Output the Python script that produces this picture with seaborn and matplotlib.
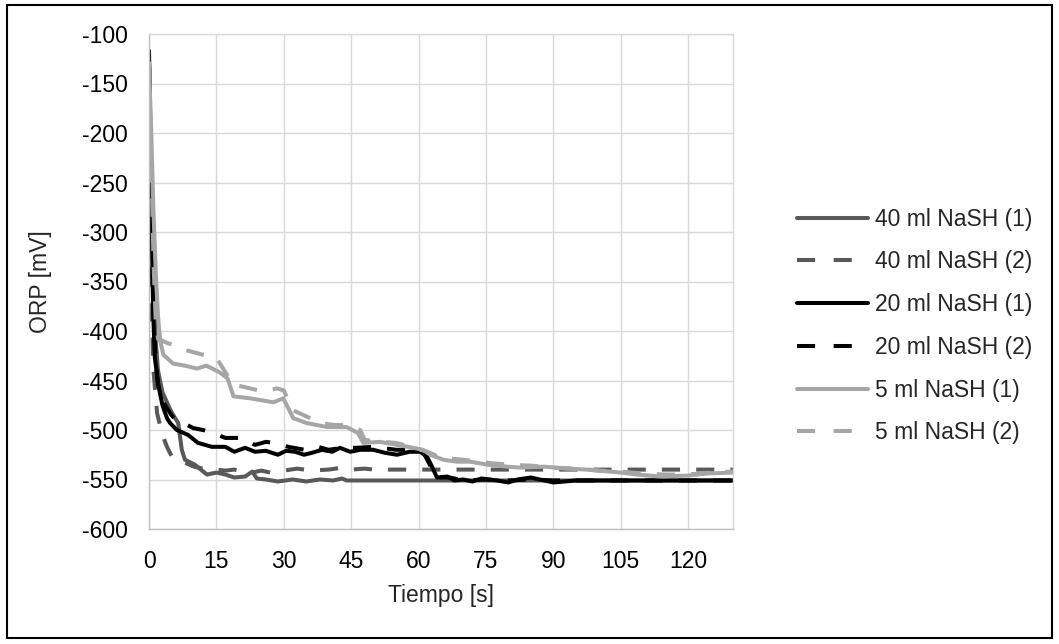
import numpy as np
import pandas as pd
import matplotlib
matplotlib.use("Agg")
import matplotlib.pyplot as plt
from matplotlib.patches import Rectangle
import seaborn as sns

# --- data ---
t_40_1 = [0, 0.5, 1, 1.5, 2, 3, 4, 5, 6.5, 7.3, 8, 10.2, 12.9, 15, 17, 19, 21.4, 23, 24, 26,
          28.7, 32, 35, 38, 41, 43, 44, 60, 90, 130]
orp_40_1 = [-130, -250, -350, -410, -440, -462, -472, -482, -493, -520, -530, -535, -545, -543,
            -545, -548, -547, -542, -549, -550, -552, -550, -552, -550, -551, -549, -551, -551,
            -551, -551]

t_40_2 = [0, 0.3, 0.6, 1, 1.8, 3, 4, 5.1, 6, 8, 10, 12, 15, 17, 19, 21, 23, 25, 27, 30, 33,
          36, 40, 43, 45, 48, 50, 130]
orp_40_2 = [-130, -250, -380, -440, -483, -505, -517, -527, -530, -533, -537, -539, -540, -541,
            -540, -542, -543, -541, -543, -541, -539, -541, -540, -538, -540, -539, -540, -540]

t_20_1 = [0, 0.3, 0.7, 1, 1.3, 2, 2.4, 3, 4, 4.7, 6.2, 8.7, 10.9, 14, 17, 19, 21.4, 23.6, 26,
          28.7, 30.5, 32.5, 34.5, 36.3, 38.5, 40.8, 42.5, 44.8, 47, 49.9, 52.5, 55.2, 58, 60.4,
          61.9, 63, 64.1, 66.4, 68, 70, 72, 74, 77.5, 80, 82, 85, 87, 90, 95, 130]
orp_20_1 = [-117, -200, -326, -390, -427, -452, -462, -475, -488, -493, -500, -505, -513, -517,
            -517, -522, -518, -522, -521, -525, -521, -522, -525, -523, -520, -522, -518, -522,
            -520, -520, -523, -525, -522, -522, -527, -537, -548, -547, -551, -550, -552, -549,
            -551, -553, -550, -548, -550, -553, -551, -551]

t_20_2 = [0, 0.3, 0.7, 1, 1.5, 2, 3, 4, 5, 6, 7.3, 9.8, 12, 13.6, 17, 20.7, 23.6, 26, 28, 31,
          34.7, 37.6, 40, 43, 46, 50, 55, 59, 61, 62.5, 64, 67, 70, 75, 80, 85, 90, 130]
orp_20_2 = [-128, -230, -340, -385, -430, -455, -470, -478, -485, -490, -492, -498, -500, -502,
            -508, -508, -515, -512, -513, -517, -520, -517, -520, -518, -518, -517, -520, -520,
            -522, -535, -548, -548, -551, -550, -551, -550, -551, -551]

t_5_1 = [0, 0.5, 1, 1.5, 2, 2.5, 3.2, 5.4, 8, 10.6, 12.8, 15.8, 17.5, 18.8, 22.5, 27.7, 29.9,
         32.1, 35.1, 39.6, 44, 46.5, 47.7, 51.4, 55.2, 58.8, 61, 62.6, 65.5, 68.6, 71.5, 75.3,
         79.7, 82.6, 88, 93, 97.5, 105, 108.7, 113.8, 120, 124, 130]
orp_5_1 = [-130, -200, -280, -340, -385, -410, -424, -433, -435, -438, -435, -442, -448, -466,
           -468, -472, -468, -488, -493, -497, -497, -503, -513, -512, -515, -518, -520, -525,
           -530, -532, -532, -535, -537, -538, -537, -539, -540, -543, -545, -547, -546, -544,
           -543]

t_5_2 = [0, 0.5, 1, 1.5, 2, 3, 4, 5.4, 7, 9.6, 12, 14, 15.4, 17.6, 18.8, 22.5, 25.4, 28.5, 30,
         32, 35.4, 38, 41.4, 44, 47, 48, 52, 55, 59, 62, 65, 70, 75, 80, 85, 90, 95, 100, 105,
         110, 115, 120, 125, 130]
orp_5_2 = [-128, -220, -330, -390, -408, -410, -412, -414, -418, -421, -424, -425, -430, -446,
           -454, -458, -461, -458, -460, -480, -487, -493, -495, -495, -500, -510, -512, -513,
           -518, -522, -528, -530, -533, -535, -536, -538, -539, -541, -542, -544, -545, -545,
           -543, -542]

labels = ["40 ml NaSH (1)", "40 ml NaSH (2)", "20 ml NaSH (1)",
          "20 ml NaSH (2)", "5 ml NaSH (1)", "5 ml NaSH (2)"]
times = [t_40_1, t_40_2, t_20_1, t_20_2, t_5_1, t_5_2]
values = [orp_40_1, orp_40_2, orp_20_1, orp_20_2, orp_5_1, orp_5_2]

colors = ["#595959", "#595959", "#000000", "#000000", "#a6a6a6", "#a6a6a6"]
dash = (4.5, 4)
styles = ["", dash, "", dash, "", dash]

x_ticks = list(range(0, 121, 15))
y_ticks = list(range(-600, -99, 50))

# long-form table for seaborn
df = pd.concat([pd.DataFrame({"Tiempo": t, "ORP": v, "serie": lab})
                for t, v, lab in zip(times, values, labels)], ignore_index=True)

sns.set_style("white")
plt.rcParams["font.family"] = ["Liberation Sans", "DejaVu Sans"]
plt.rcParams["axes.unicode_minus"] = False

fig = plt.figure(figsize=(10.59, 6.44), dpi=100)
ax = fig.add_axes([149 / 1059, 1 - 529 / 644, (733 - 149) / 1059, (529 - 34) / 644])

lw = 2.9
sns.lineplot(data=df, x="Tiempo", y="ORP", hue="serie", style="serie",
             hue_order=labels, style_order=labels,
             palette=dict(zip(labels, colors)), dashes=dict(zip(labels, styles)),
             estimator=None, sort=False, linewidth=lw, ax=ax)

for line in ax.get_lines():
    line.set_dash_capstyle("butt")
    line.set_solid_joinstyle("round")

ax.set_xlim(0, 130)
ax.set_ylim(-600, -100)
ax.set_xticks(x_ticks)
ax.set_yticks(y_ticks)
ax.grid(True, color="#d9d9d9", linewidth=1.0)
ax.set_axisbelow(True)
for s in ax.spines.values():
    s.set_color("#d9d9d9")
    s.set_linewidth(1.0)
ax.spines["left"].set_color("#bfbfbf")
ax.spines["bottom"].set_color("#bfbfbf")
ax.tick_params(axis="both", length=0, labelsize=16.5, colors="black", pad=15)
ax.set_xlabel("Tiempo [s]", fontsize=16.5, labelpad=8)
ax.set_ylabel("ORP [mV]", fontsize=16.5, labelpad=22)

handles, labs = ax.get_legend_handles_labels()
ax.get_legend().remove()
for h, st in zip(handles, styles):
    h.set_linewidth(lw)
    h.set_dash_capstyle("butt")
    if st:
        # two dashes in the legend sample, like the original
        h.set_dashes((4.5, 4.6))
fig.legend(handles, labs, loc="center left", bbox_to_anchor=(797 / 1059, 1 - 326 / 644),
           frameon=False, fontsize=16.5, handlelength=3.1, handletextpad=0.3,
           labelspacing=0.86, borderpad=0, borderaxespad=0)

# chart border
fig.patches.append(Rectangle((7 / 1059, 6 / 644), 1045 / 1059, 633 / 644,
                             transform=fig.transFigure, fill=False,
                             edgecolor="black", linewidth=1.5))

fig.savefig("out.png", dpi=100)
